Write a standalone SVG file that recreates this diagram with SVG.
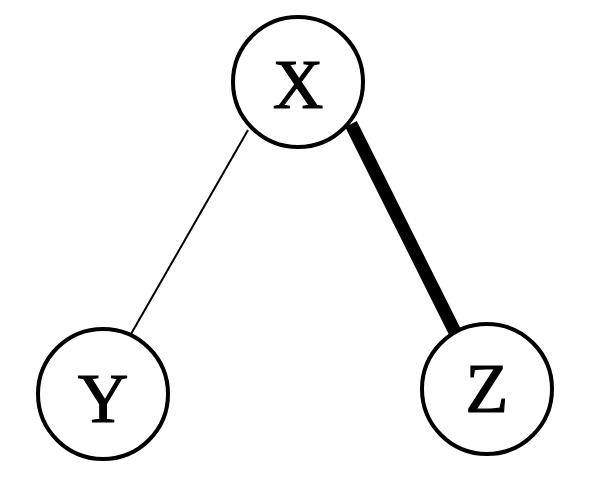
<svg xmlns="http://www.w3.org/2000/svg" width="609" height="496" viewBox="0 0 609 496">
<style>
.node circle { fill: #fff; stroke: #000; stroke-width: 4; }
.node text { font-family: "Liberation Serif", "Times New Roman", serif; font-size: 70px; fill: #000; stroke: #000; stroke-width: 1.2; text-anchor: middle; }
.edge { stroke: #000; stroke-linecap: butt; }
</style>
<rect width="609" height="496" fill="#fff"/>
<g id="connectors">
<line class="edge" x1="248" y1="130" x2="131" y2="334" stroke-width="2"/>
<line class="edge" x1="351" y1="124" x2="456" y2="334" stroke-width="13"/>
</g>
<g id="node-X" class="node">
<circle cx="298" cy="82" r="65"/>
<text x="298" y="108">X</text>
</g>
<g id="node-Y" class="node">
<circle cx="103" cy="394" r="65"/>
<text x="103" y="422">Y</text>
</g>
<g id="node-Z" class="node">
<circle cx="487" cy="389" r="65"/>
<text x="487" y="412">Z</text>
</g>
</svg>
